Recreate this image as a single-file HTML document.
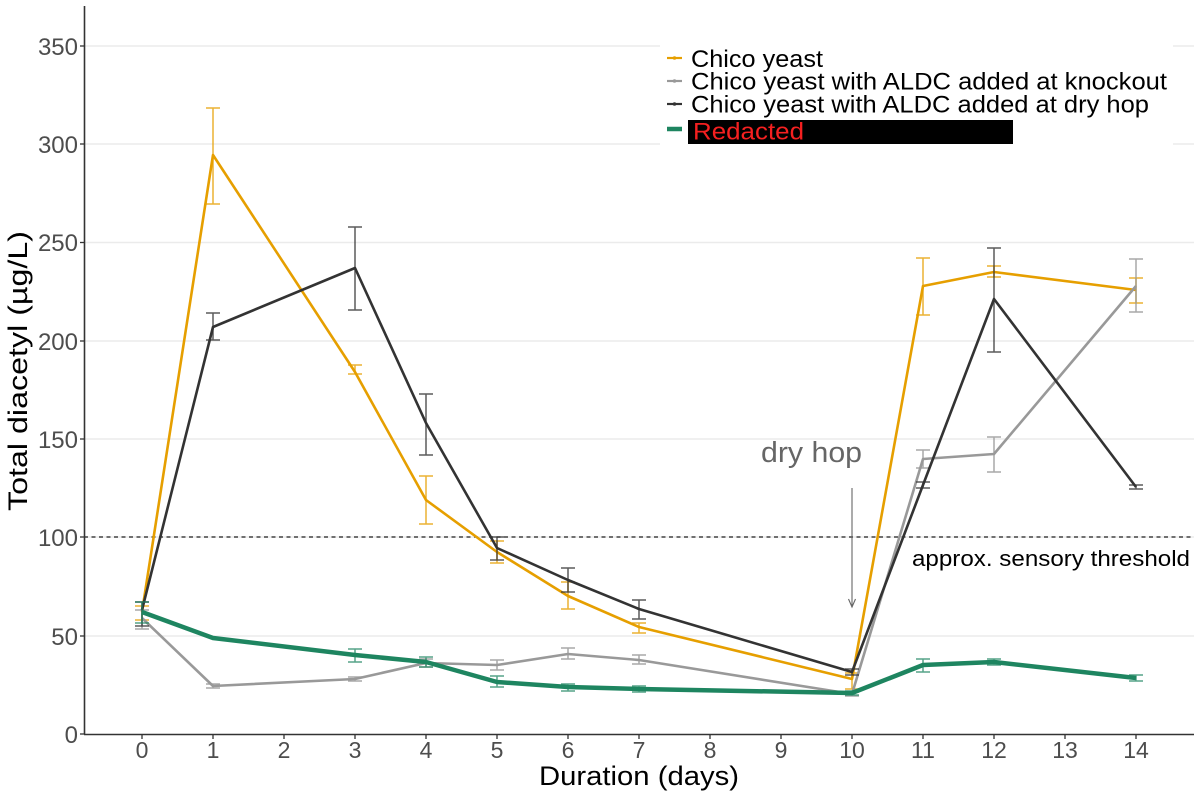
<!DOCTYPE html>
<html>
<head>
<meta charset="utf-8">
<style>
html,body{margin:0;padding:0;background:#fff;}
svg{display:block;}
text{font-family:"Liberation Sans",Arial,sans-serif;}
</style>
</head>
<body>
<svg width="1200" height="800" viewBox="0 0 1200 800" xmlns="http://www.w3.org/2000/svg">
<rect x="0" y="0" width="1200" height="800" fill="#fff"/>

<!-- gridlines -->
<g stroke="#ebebeb" stroke-width="1.5">
  <line x1="84" y1="636" x2="1194" y2="636"/>
  <line x1="84" y1="537" x2="1194" y2="537"/>
  <line x1="84" y1="439" x2="1194" y2="439"/>
  <line x1="84" y1="341" x2="1194" y2="341"/>
  <line x1="84" y1="242.5" x2="1194" y2="242.5"/>
  <line x1="84" y1="144" x2="1194" y2="144"/>
  <line x1="84" y1="46" x2="1194" y2="46"/>
</g>

<!-- threshold dashed line -->
<line x1="84" y1="537" x2="1194" y2="537" stroke="#222" stroke-width="1.3" stroke-dasharray="4,3.5"/>

<!-- axes -->
<g stroke="#333" stroke-width="1.6">
  <line x1="84.5" y1="6" x2="84.5" y2="734.5"/>
  <line x1="84" y1="734.5" x2="1194" y2="734.5"/>
</g>
<!-- y ticks -->
<g stroke="#333" stroke-width="1.3">
  <line x1="80" y1="734" x2="84" y2="734"/>
  <line x1="80" y1="636" x2="84" y2="636"/>
  <line x1="80" y1="537" x2="84" y2="537"/>
  <line x1="80" y1="439" x2="84" y2="439"/>
  <line x1="80" y1="341" x2="84" y2="341"/>
  <line x1="80" y1="242.5" x2="84" y2="242.5"/>
  <line x1="80" y1="144" x2="84" y2="144"/>
  <line x1="80" y1="46" x2="84" y2="46"/>
</g>
<!-- x ticks -->
<g stroke="#333" stroke-width="1.3">
  <line x1="142" y1="735" x2="142" y2="739"/>
  <line x1="213" y1="735" x2="213" y2="739"/>
  <line x1="284" y1="735" x2="284" y2="739"/>
  <line x1="355" y1="735" x2="355" y2="739"/>
  <line x1="426" y1="735" x2="426" y2="739"/>
  <line x1="497" y1="735" x2="497" y2="739"/>
  <line x1="568" y1="735" x2="568" y2="739"/>
  <line x1="639" y1="735" x2="639" y2="739"/>
  <line x1="710" y1="735" x2="710" y2="739"/>
  <line x1="781" y1="735" x2="781" y2="739"/>
  <line x1="852" y1="735" x2="852" y2="739"/>
  <line x1="923" y1="735" x2="923" y2="739"/>
  <line x1="994" y1="735" x2="994" y2="739"/>
  <line x1="1065" y1="735" x2="1065" y2="739"/>
  <line x1="1136" y1="735" x2="1136" y2="739"/>
</g>

<!-- y tick labels -->
<g fill="#4d4d4d" font-size="24" text-anchor="end">
  <text x="78" y="743">0</text>
  <text x="78" y="645">50</text>
  <text x="78" y="546">100</text>
  <text x="78" y="448">150</text>
  <text x="78" y="350">200</text>
  <text x="78" y="251">250</text>
  <text x="78" y="153">300</text>
  <text x="78" y="55">350</text>
</g>
<!-- x tick labels -->
<g fill="#4d4d4d" font-size="23" text-anchor="middle">
  <text x="142" y="758">0</text>
  <text x="213" y="758">1</text>
  <text x="284" y="758">2</text>
  <text x="355" y="758">3</text>
  <text x="426" y="758">4</text>
  <text x="497" y="758">5</text>
  <text x="568" y="758">6</text>
  <text x="639" y="758">7</text>
  <text x="710" y="758">8</text>
  <text x="781" y="758">9</text>
  <text x="852" y="758">10</text>
  <text x="923" y="758">11</text>
  <text x="994" y="758">12</text>
  <text x="1065" y="758">13</text>
  <text x="1136" y="758">14</text>
</g>

<!-- axis titles -->
<text x="539" y="785" font-size="27" fill="#000" textLength="200" lengthAdjust="spacingAndGlyphs">Duration (days)</text>
<text transform="translate(27,511) rotate(-90)" x="0" y="0" font-size="27" fill="#000" textLength="280" lengthAdjust="spacingAndGlyphs">Total diacetyl (µg/L)</text>

<!-- annotations -->
<text x="761" y="462" font-size="29" fill="#666" textLength="101" lengthAdjust="spacingAndGlyphs">dry hop</text>
<line x1="852" y1="488" x2="852" y2="607" stroke="#666" stroke-width="1.1"/>
<polyline points="848.5,599 852,607 855.5,599" fill="none" stroke="#666" stroke-width="1.1"/>
<text x="912" y="566" font-size="22" fill="#000" textLength="278" lengthAdjust="spacingAndGlyphs">approx. sensory threshold</text>

<!-- ORANGE series: Chico yeast -->
<g stroke="#E69F00" stroke-opacity="0.8" stroke-width="1.5" fill="none">
  <path d="M142 606V620M135 606H149M135 620H149"/>
  <path d="M213 108V204M206 108H220M206 204H220"/>
  <path d="M355 365V374M348 365H362M348 374H362"/>
  <path d="M426 476V524M419 476H433M419 524H433"/>
  <path d="M497 541V563M490 541H504M490 563H504"/>
  <path d="M568 582V609M561 582H575M561 609H575"/>
  <path d="M639 623V633M632 623H646M632 633H646"/>
  <path d="M852 673V689M845 673H859M845 689H859"/>
  <path d="M923 258V315M916 258H930M916 315H930"/>
  <path d="M994 266V277M987 266H1001M987 277H1001"/>
  <path d="M1136 278V303M1129 278H1143M1129 303H1143"/>
</g>
<polyline points="142,612 213,155 355,372 426,500 497,552 568,596 639,627 852,679 923,286 994,272 1136,290" fill="none" stroke="#E69F00" stroke-width="2.6" stroke-linejoin="round"/>

<!-- GRAY series: knockout -->
<g stroke="#999999" stroke-opacity="0.85" stroke-width="1.5" fill="none">
  <path d="M142 610V629M135 610H149M135 629H149"/>
  <path d="M213 684V688M206 684H220M206 688H220"/>
  <path d="M355 677V681M348 677H362M348 681H362"/>
  <path d="M426 659V667M419 659H433M419 667H433"/>
  <path d="M497 660V670M490 660H504M490 670H504"/>
  <path d="M568 648V659M561 648H575M561 659H575"/>
  <path d="M639 655V664M632 655H646M632 664H646"/>
  <path d="M852 692V696M845 692H859M845 696H859"/>
  <path d="M923 450V468M916 450H930M916 468H930"/>
  <path d="M994 437V472M987 437H1001M987 472H1001"/>
  <path d="M1136 259V312M1129 259H1143M1129 312H1143"/>
</g>
<polyline points="142,618 213,686 355,679 426,663 497,665 568,654 639,660 852,694 923,459 994,454 1136,286" fill="none" stroke="#999999" stroke-width="2.6" stroke-linejoin="round"/>

<!-- DARK series: dry hop -->
<g stroke="#333333" stroke-opacity="0.8" stroke-width="1.5" fill="none">
  <path d="M142 602V626M135 602H149M135 626H149"/>
  <path d="M213 313V340M206 313H220M206 340H220"/>
  <path d="M355 227V310M348 227H362M348 310H362"/>
  <path d="M426 394V455M419 394H433M419 455H433"/>
  <path d="M497 537V560M490 537H504M490 560H504"/>
  <path d="M568 568V592M561 568H575M561 592H575"/>
  <path d="M639 600V619M632 600H646M632 619H646"/>
  <path d="M852 669V675M845 669H859M845 675H859"/>
  <path d="M923 482V488M916 482H930M916 488H930"/>
  <path d="M994 248V352M987 248H1001M987 352H1001"/>
  <path d="M1136 485V489M1129 485H1143M1129 489H1143"/>
</g>
<polyline points="142,610 213,327 355,268 426,423 497,548 568,580 639,609 852,672 923,485 994,299 1136,487" fill="none" stroke="#333333" stroke-width="2.6" stroke-linejoin="round"/>

<!-- GREEN series: Redacted -->
<g stroke="#1e8560" stroke-opacity="0.75" stroke-width="1.5" fill="none">
  <path d="M142 602V623M135 602H149M135 623H149"/>
  <path d="M355 649V662M348 649H362M348 662H362"/>
  <path d="M426 657V667M419 657H433M419 667H433"/>
  <path d="M497 676V687M490 676H504M490 687H504"/>
  <path d="M568 684V691M561 684H575M561 691H575"/>
  <path d="M639 686V692M632 686H646M632 692H646"/>
  <path d="M852 691V695M845 691H859M845 695H859"/>
  <path d="M923 659V672M916 659H930M916 672H930"/>
  <path d="M994 659V665M987 659H1001M987 665H1001"/>
  <path d="M1136 675V681M1129 675H1143M1129 681H1143"/>
</g>
<polyline points="142,612 213,638 355,655 426,662 497,682 568,687 639,689 852,693 923,665 994,662 1136,678" fill="none" stroke="#1e8560" stroke-width="4.5" stroke-linejoin="round"/>

<!-- legend -->
<rect x="660" y="40" width="513" height="108" fill="#fff"/>
<g stroke-width="2.2">
  <line x1="667" y1="58" x2="682" y2="58" stroke="#E69F00"/>
  <line x1="667" y1="81" x2="682" y2="81" stroke="#999999"/>
  <line x1="667" y1="104" x2="682" y2="104" stroke="#333333"/>
  <line x1="667" y1="129" x2="682" y2="129" stroke="#1e8560" stroke-width="4.5"/>
</g>
<circle cx="674.5" cy="58" r="1.8" fill="#E69F00"/>
<circle cx="674.5" cy="81" r="1.8" fill="#999999"/>
<circle cx="674.5" cy="104" r="1.8" fill="#333333"/>
<g font-size="24" fill="#000">
  <text x="691" y="67" textLength="132" lengthAdjust="spacingAndGlyphs">Chico yeast</text>
  <text x="691" y="89.5" textLength="476" lengthAdjust="spacingAndGlyphs">Chico yeast with ALDC added at knockout</text>
  <text x="691" y="112.5" textLength="458" lengthAdjust="spacingAndGlyphs">Chico yeast with ALDC added at dry hop</text>
</g>
<rect x="688" y="120" width="325" height="24" fill="#000"/>
<text x="693" y="139.5" font-size="24" fill="#f52020" textLength="111" lengthAdjust="spacingAndGlyphs">Redacted</text>
</svg>
</body>
</html>
